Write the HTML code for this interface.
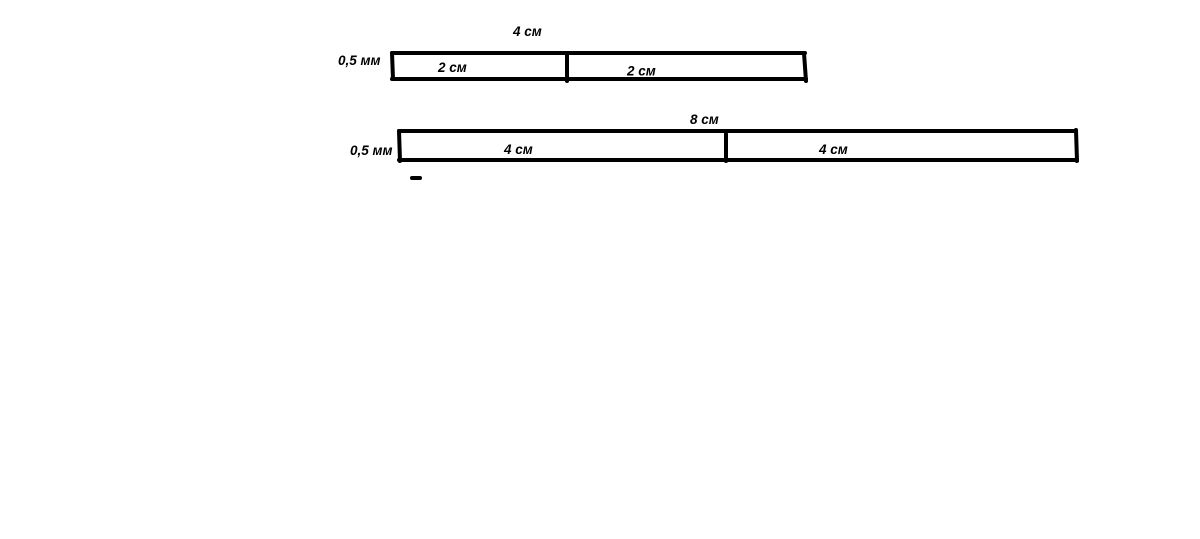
<!DOCTYPE html>
<html><head><meta charset="utf-8"><style>
body{margin:0;width:1200px;height:539px;background:#fff;overflow:hidden}
</style></head><body>
<svg width="1200" height="539" xmlns="http://www.w3.org/2000/svg" style="position:absolute;left:0;top:0">
<g stroke="#000" stroke-width="4" fill="none" stroke-linecap="round">
<line x1="392" y1="53" x2="805" y2="53"/>
<line x1="392" y1="79" x2="806" y2="79"/>
<line x1="392" y1="53" x2="393" y2="79"/>
<line x1="804" y1="53" x2="806" y2="81"/>
<line x1="567" y1="53" x2="567" y2="81"/>
<line x1="399" y1="131" x2="1076" y2="131"/>
<line x1="399" y1="160" x2="1077" y2="160"/>
<line x1="399" y1="131" x2="400" y2="161"/>
<line x1="1076" y1="130" x2="1077" y2="161"/>
<line x1="726" y1="134" x2="726" y2="161"/>
<line x1="412" y1="178" x2="420" y2="178"/>
</g>
<g font-family="Liberation Sans, sans-serif" font-size="13.5" font-weight="bold" font-style="italic" fill="#000">
<text x="513" y="36">4 см</text>
<text x="338" y="65">0,5 мм</text>
<text x="438" y="72">2 см</text>
<text x="627" y="75.5">2 см</text>
<text x="690" y="124">8 см</text>
<text x="350" y="155">0,5 мм</text>
<text x="504" y="154">4 см</text>
<text x="819" y="154">4 см</text>
</g>
</svg>
</body></html>
